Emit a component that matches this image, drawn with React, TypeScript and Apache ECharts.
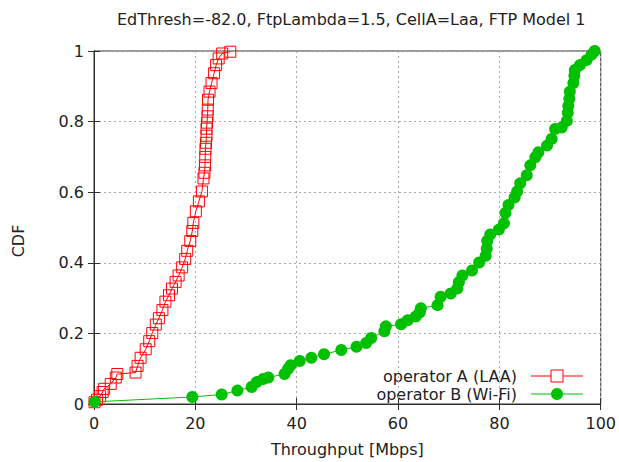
import React, { useEffect, useRef } from "react";
import * as echarts from "echarts";

const titleText = "EdThresh=-82.0, FtpLambda=1.5, CellA=Laa, FTP Model 1";
const xAxisName = "Throughput [Mbps]";
const yAxisName = "CDF";
const seriesNames = ["operator A (LAA)", "operator B (Wi-Fi)"];
const seriesColors = ["#ff0000", "#00c000"];

const laaX = [0.1, 0.6, 1.2, 1.7, 2.0, 3.3, 4.3, 4.6, 8.2, 8.6, 9.2, 10.2, 10.9, 11.5, 12.2, 12.8, 13.5, 14.1, 14.8, 15.4, 16.1, 16.7, 17.4, 18.0, 18.4, 19.0, 19.4, 19.6, 20.1, 20.7, 21.3, 21.6, 21.8, 21.9, 21.95, 22.0, 22.1, 22.2, 22.2, 22.3, 22.4, 22.45, 22.5, 22.8, 23.2, 23.7, 24.1, 24.6, 25.3, 26.9];
const laaY = [0.005, 0.012, 0.022, 0.034, 0.043, 0.057, 0.075, 0.085, 0.089, 0.108, 0.131, 0.155, 0.178, 0.201, 0.225, 0.243, 0.266, 0.29, 0.308, 0.327, 0.346, 0.364, 0.387, 0.411, 0.434, 0.462, 0.49, 0.513, 0.546, 0.574, 0.602, 0.639, 0.655, 0.676, 0.7, 0.723, 0.74, 0.76, 0.78, 0.797, 0.815, 0.834, 0.862, 0.885, 0.909, 0.937, 0.96, 0.979, 0.993, 0.998];

const wifiX = [0.1, 19.4, 25.2, 28.3, 31.1, 32.1, 33.4, 34.4, 37.6, 38.3, 38.8, 40.6, 42.9, 45.4, 48.8, 51.8, 53.7, 54.7, 57.3, 57.6, 60.6, 61.9, 63.5, 64.3, 64.5, 67.8, 68.4, 70.4, 71.7, 72.0, 72.7, 74.6, 76.0, 77.3, 77.5, 77.6, 78.2, 79.9, 80.9, 81.2, 81.8, 83.0, 83.5, 84.1, 85.4, 86.1, 87.1, 87.7, 89.4, 90.3, 91.0, 92.3, 93.3, 93.5, 93.6, 93.8, 93.9, 94.6, 94.8, 94.9, 95.9, 97.2, 98.2, 98.8];
const wifiY = [0.006, 0.02, 0.027, 0.038, 0.048, 0.062, 0.071, 0.075, 0.085, 0.1, 0.11, 0.122, 0.131, 0.141, 0.153, 0.162, 0.173, 0.187, 0.206, 0.22, 0.226, 0.237, 0.248, 0.26, 0.271, 0.28, 0.304, 0.313, 0.327, 0.345, 0.364, 0.378, 0.401, 0.42, 0.44, 0.462, 0.48, 0.494, 0.512, 0.541, 0.564, 0.585, 0.602, 0.625, 0.648, 0.676, 0.699, 0.713, 0.732, 0.751, 0.779, 0.783, 0.802, 0.825, 0.844, 0.865, 0.885, 0.909, 0.93, 0.946, 0.96, 0.974, 0.99, 1.0];

const FONT = "DejaVu Sans";
const TXT = "#222222";

export default function App() {
  const ref = useRef<HTMLDivElement>(null);
  useEffect(() => {
    document.body.style.margin = "0";
    const chart = echarts.init(ref.current!, null, { renderer: "svg" });
    const laaData = laaX.map((x, i) => [x, laaY[i]]);
    const wifiData = wifiX.map((x, i) => [x, wifiY[i]]);
    const gridLine = { show: true, lineStyle: { color: "#a8a8a8", type: [2, 3] as any, width: 1 } };
    const axisLine = { show: true, lineStyle: { color: "#303030", width: 1 } };
    const tick = { show: true, inside: true, length: 6, lineStyle: { color: "#303030" } };

    // hand-drawn key (gnuplot style: text right of which the sample sits)
    const keyRows = [376, 394];
    const keyGraphics: any[] = [];
    seriesNames.forEach((name, i) => {
      const y = keyRows[i];
      keyGraphics.push({
        type: "text",
        x: 517,
        y,
        style: { text: name, font: `16px '${FONT}'`, fill: TXT, textAlign: "right", textVerticalAlign: "middle" },
      });
      keyGraphics.push({
        type: "line",
        shape: { x1: 531, y1: y, x2: 583, y2: y },
        style: { stroke: seriesColors[i], lineWidth: 1 },
      });
      if (i === 0) {
        keyGraphics.push({
          type: "rect",
          shape: { x: 551, y: y - 6, width: 12, height: 12 },
          style: { stroke: seriesColors[i], fill: "#ffffff", lineWidth: 1 },
        });
      } else {
        keyGraphics.push({
          type: "circle",
          shape: { cx: 557, cy: y, r: 6 },
          style: { fill: seriesColors[i] },
        });
      }
    });

    chart.setOption({
      animation: false,
      backgroundColor: "#ffffff",
      textStyle: { fontFamily: FONT },
      title: {
        text: titleText,
        left: 117,
        top: 11,
        padding: 0,
        textStyle: { fontFamily: FONT, fontSize: 16, fontWeight: "normal", color: TXT },
      },
      grid: { left: 94, right: 15, top: 51, bottom: 53, show: true, borderColor: "#303030", borderWidth: 1 },
      xAxis: [
        {
          type: "value",
          min: 0,
          max: 100,
          interval: 20,
          position: "bottom",
          name: xAxisName,
          nameLocation: "middle",
          nameGap: 37,
          nameTextStyle: { fontFamily: FONT, fontSize: 16, color: TXT },
          axisLine,
          axisTick: tick,
          axisLabel: { fontFamily: FONT, fontSize: 16, color: TXT, margin: 11 },
          splitLine: gridLine,
        },
        {
          type: "value",
          min: 0,
          max: 100,
          interval: 20,
          position: "top",
          axisLine,
          axisTick: tick,
          axisLabel: { show: false },
          splitLine: { show: false },
        },
      ],
      yAxis: [
        {
          type: "value",
          min: 0,
          max: 1,
          interval: 0.2,
          position: "left",
          axisLine,
          axisTick: tick,
          axisLabel: { fontFamily: FONT, fontSize: 16, color: TXT, margin: 10 },
          splitLine: gridLine,
        },
        {
          type: "value",
          min: 0,
          max: 1,
          interval: 0.2,
          position: "right",
          axisLine,
          axisTick: tick,
          axisLabel: { show: false },
          splitLine: { show: false },
        },
      ],
      graphic: [
        {
          type: "text",
          x: 18,
          y: 241,
          rotation: Math.PI / 2,
          style: {
            text: yAxisName,
            font: `16px '${FONT}'`,
            fill: TXT,
            textAlign: "center",
            textVerticalAlign: "middle",
          },
        },
        ...keyGraphics,
      ],
      series: [
        {
          name: seriesNames[0],
          type: "line",
          xAxisIndex: 0,
          yAxisIndex: 0,
          data: laaData,
          symbol: "rect",
          symbolSize: 11,
          showAllSymbol: true,
          lineStyle: { color: seriesColors[0], width: 1 },
          itemStyle: { color: "rgba(255,0,0,0)", borderColor: seriesColors[0], borderWidth: 1 },
          z: 2,
        },
        {
          name: seriesNames[1],
          type: "line",
          xAxisIndex: 0,
          yAxisIndex: 0,
          data: wifiData,
          symbol: "circle",
          symbolSize: 12,
          showAllSymbol: true,
          lineStyle: { color: seriesColors[1], width: 1 },
          itemStyle: { color: seriesColors[1] },
          z: 3,
        },
      ],
    });
    return () => chart.dispose();
  }, []);
  return <div ref={ref} style={{ position: "absolute", left: 0, top: 0, width: 619, height: 462 }} />;
}
